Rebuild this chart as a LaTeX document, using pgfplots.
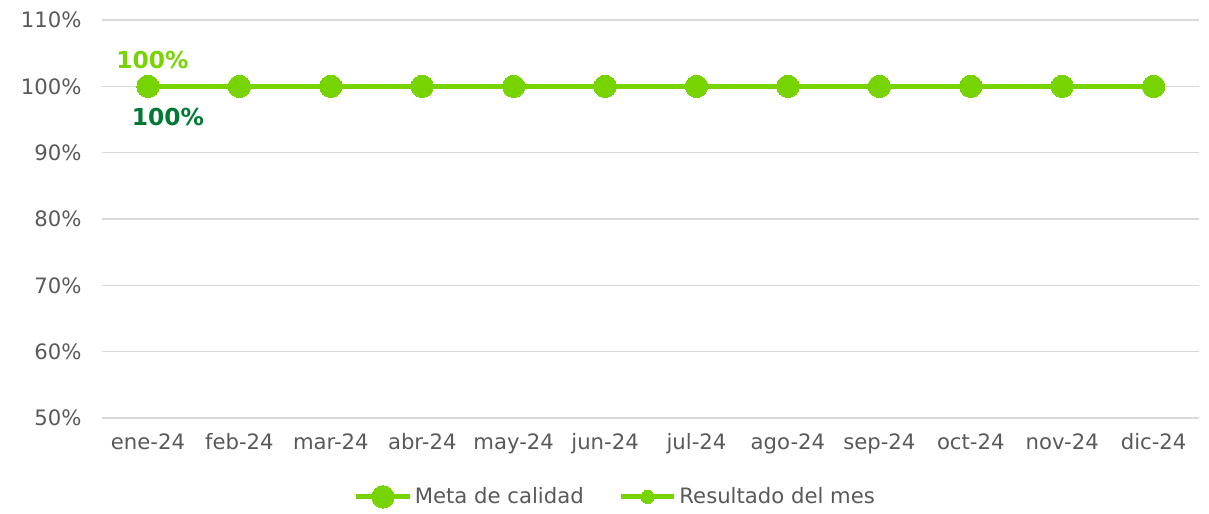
\documentclass[border=0pt]{standalone}
\usepackage{pgfplots}
\pgfplotsset{compat=1.18}
\usepackage{fontspec}
\setmainfont{DejaVu Sans}
\definecolor{lgreen}{HTML}{77D400}
\definecolor{dgreen}{HTML}{007A33}
\definecolor{txt}{HTML}{595959}
\definecolor{gridc}{HTML}{D9D9D9}
\begin{document}
\begin{tikzpicture}[x=1pt,y=1pt]
\path[use as bounding box] (-76.7pt,-71.25pt) rectangle (830pt,313.5pt);
\begin{axis}[
  scale only axis,
  width=822.75pt, height=298.5pt,
  xmin=-0.5, xmax=11.5, ymin=50, ymax=110,
  xtick={0,...,11},
  xticklabels={ene-24,feb-24,mar-24,abr-24,may-24,jun-24,jul-24,ago-24,sep-24,oct-24,nov-24,dic-24},
  ytick={50,60,...,110},
  yticklabels={50\%,60\%,70\%,80\%,90\%,100\%,110\%},
  ymajorgrids=true, xmajorgrids=false,
  major grid style={draw=gridc, line width=1.1pt},
  axis line style={draw=none},
  tick style={draw=none},
  ticklabel style={font=\fontsize{15.9}{18}\selectfont, text=txt},
  xticklabel style={yshift=-8pt},
  yticklabel style={xshift=-12pt},
  legend columns=2,
  legend style={draw=none, at={(0.468,-0.198)}, anchor=center,
    font=\fontsize{15.9}{18}\selectfont, text=txt,
    /tikz/every even column/.append style={column sep=24pt},
    inner sep=0pt},
  legend image code/.code={\draw[mark repeat=2,mark phase=2,#1] plot coordinates {(0pt,0pt) (20pt,0pt) (40pt,0pt)};},
  legend cell align=left,
  clip=false,
]
\addplot[lgreen, line width=3.75pt, mark=*, mark size=8.4pt, mark options={solid, fill=lgreen, draw=lgreen, line width=0pt}]
  coordinates {(0,100)(1,100)(2,100)(3,100)(4,100)(5,100)(6,100)(7,100)(8,100)(9,100)(10,100)(11,100)};
\addlegendentry{Meta de calidad}
\addplot[lgreen, line width=3.75pt, mark=*, mark size=5pt, mark options={solid, fill=lgreen, draw=lgreen, line width=0pt}]
  coordinates {(0,100)(1,100)(2,100)(3,100)(4,100)(5,100)(6,100)(7,100)(8,100)(9,100)(10,100)(11,100)};
\addlegendentry{Resultado del mes}
\addplot[draw=none, mark=none, forget plot, nodes near coords={100\%},
  nodes near coords style={anchor=center, xshift=3.4pt, yshift=20pt, text=lgreen, font=\bfseries\fontsize{17.5}{20}\selectfont}]
  coordinates {(0,100)};
\addplot[draw=none, mark=none, forget plot, nodes near coords={100\%},
  nodes near coords style={anchor=center, xshift=15pt, yshift=-23pt, text=dgreen, font=\bfseries\fontsize{17.5}{20}\selectfont}]
  coordinates {(0,100)};
\end{axis}
\end{tikzpicture}
\end{document}
